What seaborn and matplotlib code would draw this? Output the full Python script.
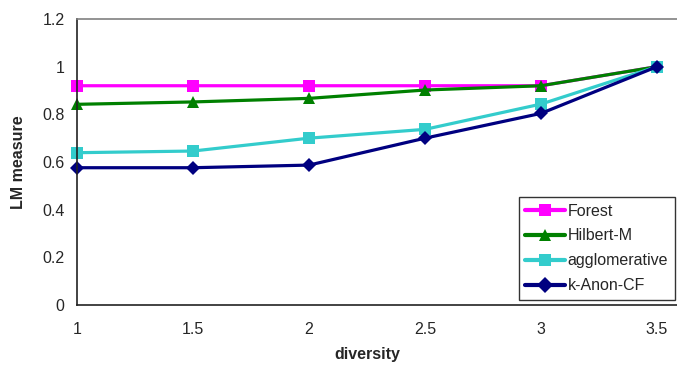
import pandas as pd
import matplotlib
matplotlib.use("Agg")
import matplotlib.pyplot as plt
import seaborn as sns

diversity = [1, 1.5, 2, 2.5, 3, 3.5]
forest = [0.92, 0.92, 0.92, 0.92, 0.92, 1.0]
hilbert_m = [0.842, 0.852, 0.867, 0.902, 0.92, 1.0]
agglomerative = [0.639, 0.646, 0.70, 0.737, 0.843, 1.0]
k_anon_cf = [0.576, 0.576, 0.587, 0.70, 0.804, 1.0]

methods = ["Forest", "Hilbert-M", "agglomerative", "k-Anon-CF"]
series = [forest, hilbert_m, agglomerative, k_anon_cf]

rows = []
for name, vals in zip(methods, series):
    for d, v in zip(diversity, vals):
        rows.append({"diversity": d, "LM measure": v, "method": name})
df = pd.DataFrame(rows)

sns.set_style("white")
plt.rcParams["font.family"] = ["Liberation Sans", "DejaVu Sans"]

colors = {"Forest": "#FF00FF", "Hilbert-M": "#008000",
          "agglomerative": "#33CCCC", "k-Anon-CF": "#000080"}
markers = {"Forest": "s", "Hilbert-M": "^", "agglomerative": "s", "k-Anon-CF": "D"}
msizes = {"Forest": 8.5, "Hilbert-M": 8, "agglomerative": 8.5, "k-Anon-CF": 7.5}

fig = plt.figure(figsize=(6.77, 3.70), dpi=100)
ax = fig.add_axes([77 / 677, 1 - 305 / 370, 1 - 77 / 677, 286 / 370])

sns.lineplot(data=df, x="diversity", y="LM measure", hue="method", style="method",
             hue_order=methods, style_order=methods, palette=colors, markers=markers,
             dashes=False, linewidth=2.3, markersize=8.5, markeredgewidth=0,
             clip_on=False, ax=ax)
for line, name in zip(ax.lines, methods):
    line.set_markersize(msizes[name])

ax.set_xlim(1, 3.586)
ax.set_ylim(0, 1.2)
ax.set_xticks(diversity)
ax.set_xticklabels(["1", "1.5", "2", "2.5", "3", "3.5"])
ax.set_yticks([0, 0.2, 0.4, 0.6, 0.8, 1.0, 1.2])
ax.set_yticklabels(["0", "0.2", "0.4", "0.6", "0.8", "1", "1.2"])
ax.tick_params(axis="both", direction="out", length=4, width=1, color="#333333",
               labelsize=11.5, pad=5)
ax.tick_params(axis="x", pad=8)

for s in ["left", "bottom"]:
    ax.spines[s].set_color("#222222")
    ax.spines[s].set_linewidth(1.2)
ax.spines["top"].set_color("#808080")
ax.spines["top"].set_linewidth(1.2)
ax.spines["right"].set_visible(False)

ax.set_xlabel("diversity", fontsize=11.5, fontweight="bold")
ax.set_ylabel("LM measure", fontsize=11.5, fontweight="bold")
ax.xaxis.set_label_coords((367 - 77) / 600, -(347 - 305) / 286)
ax.yaxis.set_label_coords(-(77 - 26) / 600, 0.5)

leg = ax.legend(loc="lower right", bbox_to_anchor=(675 / 677, 1 - 300 / 370),
                bbox_transform=fig.transFigure, frameon=True, fancybox=False,
                fontsize=11.5, handlelength=2.45, handletextpad=0.2,
                labelspacing=0.62, borderpad=0.42, borderaxespad=0)
leg.get_frame().set_edgecolor("black")
leg.get_frame().set_linewidth(1.0)
for line in leg.get_lines():
    line.set_linewidth(3)

fig.savefig("out.png", dpi=100, facecolor="white")
